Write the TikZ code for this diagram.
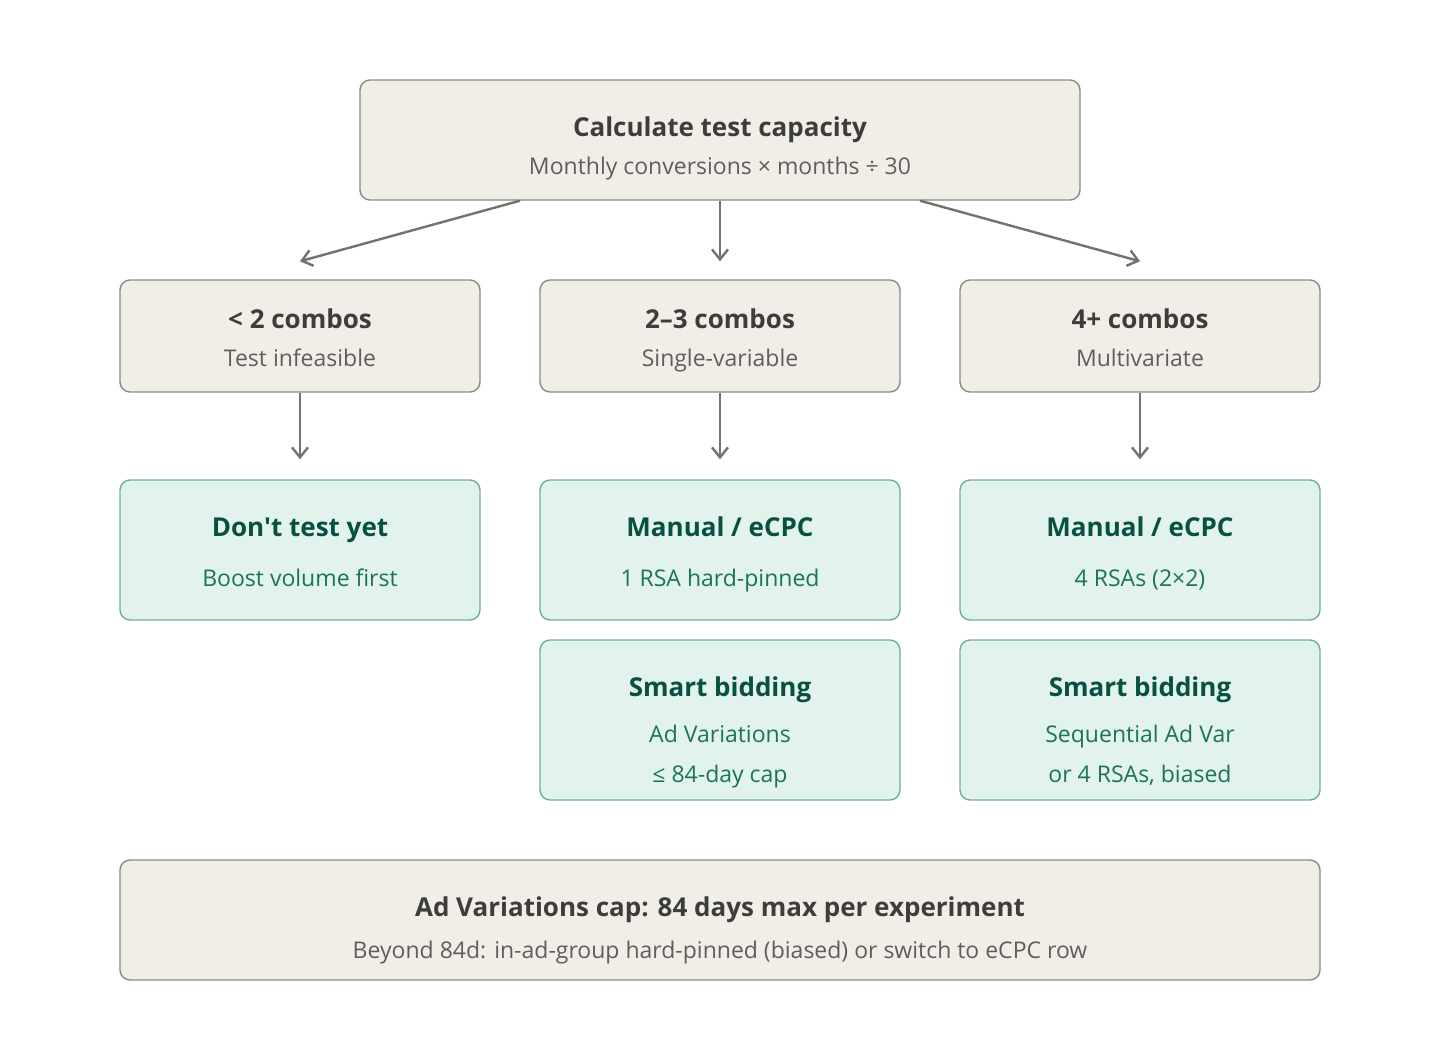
\documentclass[tikz,border=0pt]{standalone}
\usepackage{fontspec}
\setmainfont{Open Sans}
\usetikzlibrary{arrows.meta,calc}
\definecolor{sand}{HTML}{F1EEE8}
\definecolor{sandline}{HTML}{8B8A85}
\definecolor{mint}{HTML}{E1F3EC}
\definecolor{mintline}{HTML}{6FAE96}
\definecolor{ink}{HTML}{3D3D3A}
\definecolor{inksoft}{HTML}{5F5E5A}
\definecolor{pine}{HTML}{085041}
\definecolor{pinesoft}{HTML}{1B7358}
\definecolor{wire}{HTML}{73726C}
\tikzset{
  sandbox/.style={draw=sandline, fill=sand, rounded corners=5pt, line width=0.7pt, minimum width=180pt, minimum height=56pt},
  mintbox/.style={draw=mintline, fill=mint, rounded corners=5pt, line width=0.7pt, minimum width=180pt, minimum height=70pt},
  ttl/.style={anchor=base, font=\fontsize{13}{16}\selectfont\bfseries, text=ink},
  sub/.style={anchor=base, font=\fontsize{11.5}{14}\selectfont, text=inksoft},
  mttl/.style={ttl, text=pine},
  msub/.style={sub, text=pinesoft},
  arr/.style={draw=wire, line width=1.2pt, -{Straight Barb[length=5pt,width=8pt]}}
}
\begin{document}
\begin{tikzpicture}[x=0.5pt,y=-0.5pt]
\useasboundingbox[fill=white] (0,0) rectangle (1440,1060);
\node[sandbox, minimum width=360pt, minimum height=60pt] (cap) at (720,140) {};
\node[ttl] (capt) at (720,136) {Calculate test capacity};
\node[sub] (caps) at (720,174) {Monthly conversions × months ÷ 30};
\node[sandbox] (lo) at (300,336) {};
\node[ttl] (lot) at (300,328) {< 2 combos};
\node[sub] (los) at (300,366) {Test infeasible};
\node[sandbox] (mid) at (720,336) {};
\node[ttl] (midt) at (720,328) {2–3 combos};
\node[sub] (mids) at (720,366) {Single-variable};
\node[sandbox] (hi) at (1140,336) {};
\node[ttl] (hit) at (1140,328) {4+ combos};
\node[sub] (his) at (1140,366) {Multivariate};
\node[mintbox] (wait) at (300,550) {};
\node[mttl] (waitt) at (300,536) {Don\textquotesingle t test yet};
\node[msub] (waits) at (300,586) {Boost volume first};
\node[mintbox] (midman) at (720,550) {};
\node[mttl] (midmant) at (720,536) {Manual / eCPC};
\node[msub] (midmans) at (720,586) {1 RSA hard-pinned};
\node[mintbox] (himan) at (1140,550) {};
\node[mttl] (himant) at (1140,536) {Manual / eCPC};
\node[msub] (himans) at (1140,586) {4 RSAs (2×2)};
\node[mintbox, minimum height=80pt] (midsmart) at (720,720) {};
\node[mttl] (midsmartt) at (720,696) {Smart bidding};
\node[msub] (midsmarta) at (720,742) {Ad Variations};
\node[msub] (midsmartb) at (720,782) {≤ 84-day cap};
\node[mintbox, minimum height=80pt] (hismart) at (1140,720) {};
\node[mttl] (hismartt) at (1140,696) {Smart bidding};
\node[msub] (hismarta) at (1140,742) {Sequential Ad Var};
\node[msub] (hismartb) at (1140,782) {or 4 RSAs, biased};
\node[sandbox, minimum width=600pt, minimum height=60pt] (note) at (720,920) {};
\node[ttl] (notet) at (720,916) {Ad Variations cap: 84 days max per experiment};
\node[sub] (notes) at (720,958) {Beyond 84d: in-ad-group hard-pinned (biased) or switch to eCPC row};
\draw[arr] ($(cap.south)+(-200,0)$) -- ($(lo.north)+(0,-18)$);
\draw[arr] (cap.south) -- ($(mid.north)+(0,-18)$);
\draw[arr] ($(cap.south)+(200,0)$) -- ($(hi.north)+(0,-18)$);
\foreach \a/\b in {lo/wait, mid/midman, hi/himan} {\draw[arr] (\a.south) -- ($(\b.north)+(0,-20)$);}
\end{tikzpicture}
\end{document}
